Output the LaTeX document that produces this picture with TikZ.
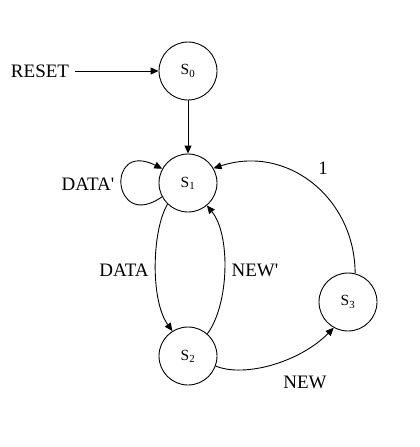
\documentclass[tikz,border=0pt]{standalone}
\usepackage{fontspec}
\setmainfont{Liberation Serif}
\usetikzlibrary{arrows.meta}
\begin{document}
\begin{tikzpicture}[x=1pt,y=-1pt,
  state/.style={draw,circle,minimum size=58pt,inner sep=0pt,line width=0.9pt,font=\fontsize{15.5}{18}\selectfont},
  lbl/.style={font=\fontsize{19}{22}\selectfont,inner sep=0pt},
  edge/.style={line width=0.9pt,-{Triangle[length=8pt,width=7pt]}}]
\useasboundingbox (0,0) rectangle (420,447);
\node[state] (S0) at (188,71) {S\textsubscript{0}};
\node[state] (S1) at (188,183) {S\textsubscript{1}};
\node[state] (S2) at (188,356) {S\textsubscript{2}};
\node[state] (S3) at (348,302) {S\textsubscript{3}};
\node[lbl] (reset) at (40,71) {RESET};
\node[lbl] (dataneg) at (88,184) {DATA\textquotesingle};
\node[lbl] (data) at (124,270) {DATA};
\node[lbl] (newneg) at (255,270) {NEW\textquotesingle};
\node[lbl] (new) at (305,382) {NEW};
\node[lbl] (one) at (323,168) {1};
\coordinate (r0) at (75,71);
\draw[edge] (r0) -- (S0.west);
\draw[edge] (S0.south) -- (S1.north);
\draw[edge] (S1.208) .. controls (112,232) and (105,140) .. (S1.151);
\draw[edge] (S1.226) .. controls (152,230) and (150,300) .. (S2.122);
\draw[edge] (S2.49) .. controls (229,305) and (231,235) .. (S1.310);
\draw[edge] (S2.-20) .. controls (245,378) and (300,362) .. (S3.241);
\draw[edge] (S3.76) .. controls (355,198) and (287,144) .. (S1.30);
\end{tikzpicture}
\end{document}
